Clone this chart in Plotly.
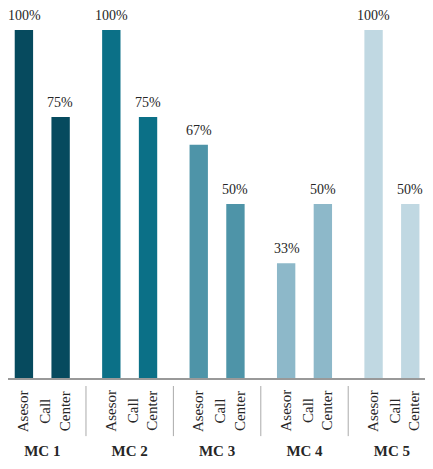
import plotly.graph_objects as go

groups = ["MC 1", "MC 2", "MC 3", "MC 4", "MC 5"]
series = ["Asesor", "Call<br>Center"]
asesor = [100, 100, 67, 33, 100]
call_center = [75, 75, 50, 50, 50]

group_colors = ["#064a5e", "#0b7087", "#4e94a8", "#8db8c9", "#c0d8e2"]
TEXT = "#262626"
FONT = "Liberation Serif, Times New Roman, serif"

BAR_SHIFT = 18  # px from group centre to each bar centre

fig = go.Figure()
for name, vals, side, label_shift in [(series[0], asesor, -1, -19),
                                      (series[1], call_center, 1, 13)]:
    fig.add_trace(go.Bar(
        x=groups,
        y=vals,
        name=name,
        marker=dict(color=group_colors, line=dict(width=0)),
        cliponaxis=False,
    ))
    for g, v in zip(groups, vals):
        # value label above the bar
        fig.add_annotation(
            x=g, xref="x", y=v, yref="y",
            text=f"{v}%", showarrow=False,
            xanchor="center", yanchor="bottom",
            xshift=side * BAR_SHIFT, yshift=5,
            font=dict(size=14, color=TEXT, family=FONT),
        )
        # sub-category label under the bar
        fig.add_annotation(
            x=g, xref="x", y=0, yref="paper",
            text=name, textangle=-90, showarrow=False,
            xanchor="center", yanchor="middle",
            xshift=label_shift, yshift=-33, align="center",
            font=dict(size=15, color=TEXT, family=FONT),
        )

# separators between groups
for i in range(len(groups) - 1):
    fig.add_shape(
        type="line", xref="x", yref="paper",
        x0=i + 0.5, x1=i + 0.5, y0=-0.023, y1=-0.167,
        line=dict(color="#aaaaaa", width=1),
    )

# page body has an 8px margin, so the figure is sized to fit inside it
fig.update_layout(
    width=425, height=461,
    barmode="group", bargap=0.16, bargroupgap=0.5,
    paper_bgcolor="white", plot_bgcolor="white",
    showlegend=False,
    margin=dict(l=0, r=0, t=22, b=91),
    font=dict(family=FONT, color=TEXT),
)
fig.update_xaxes(
    type="category", range=[-0.392, 4.47],
    tickvals=groups, ticktext=[f"<b>{g}</b>" for g in groups],
    tickfont=dict(size=15, color=TEXT, family=FONT),
    ticks="", ticklabelstandoff=58,
    showline=True, linecolor="#999999", linewidth=1.5,
    showgrid=False, zeroline=False,
)
fig.update_yaxes(range=[0, 100], visible=False, showgrid=False, zeroline=False)

fig.write_html("out.html")
